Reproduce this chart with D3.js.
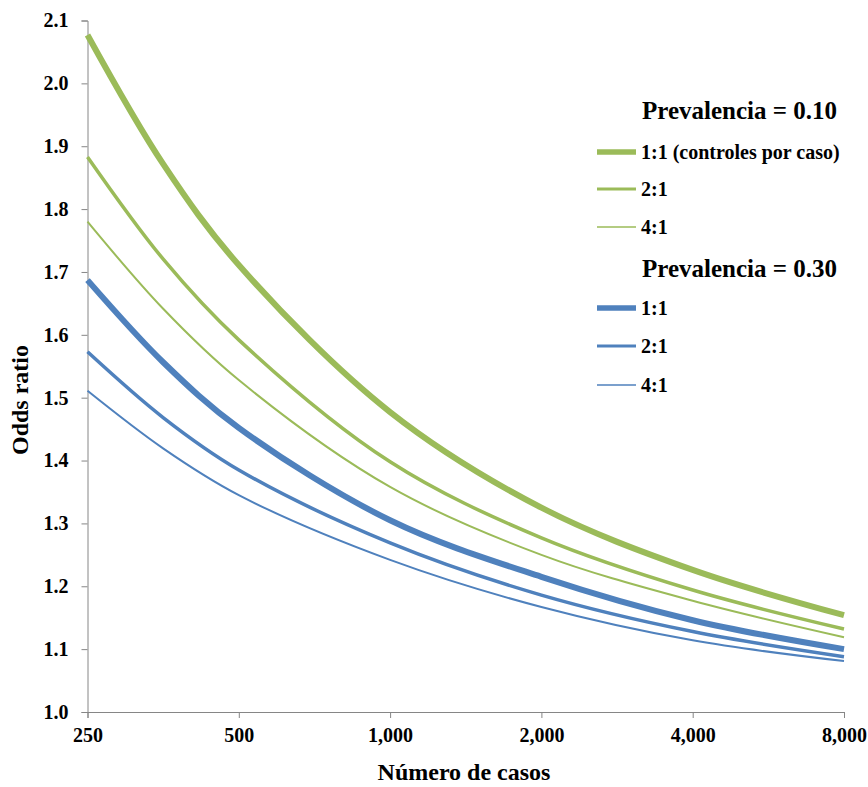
<!DOCTYPE html>
<html lang="es">
<head>
  <meta charset="utf-8">
  <title>Odds ratio detectable según número de casos</title>
  <script src="https://d3js.org/d3.v7.min.js"></script>
  <style>
    body { margin: 0; background: #fff; }
    svg text { font-family: "Times New Roman", "Liberation Serif", Tinos, "DejaVu Serif", serif !important; font-weight: bold; fill: #000; }
  </style>
</head>
<body>
<div id="chart"></div>
<script>
  // Número de casos (eje x, escala logarítmica)
  const casos = [250, 354, 500, 1000, 2000, 4000, 8000];
  const xTicks = [250, 500, 1000, 2000, 4000, 8000];
  const yTicks = [1.0, 1.1, 1.2, 1.3, 1.4, 1.5, 1.6, 1.7, 1.8, 1.9, 2.0, 2.1];

  // odds ratio, prevalencia 0.10
  const prev10_1a1 = [2.077, 1.871, 1.711, 1.477, 1.325, 1.226, 1.154];
  const prev10_2a1 = [1.883, 1.720, 1.592, 1.398, 1.277, 1.194, 1.132];
  const prev10_4a1 = [1.780, 1.641, 1.528, 1.358, 1.250, 1.177, 1.119];
  // prevalencia 0.30
  const prev30_1a1 = [1.687, 1.556, 1.452, 1.305, 1.215, 1.146, 1.100];
  const prev30_2a1 = [1.573, 1.468, 1.385, 1.269, 1.186, 1.128, 1.088];
  const prev30_4a1 = [1.511, 1.419, 1.345, 1.242, 1.167, 1.114, 1.081];

  const legendTitles = ["Prevalencia = 0.10", "Prevalencia = 0.30"];
  const legendLabels = [["1:1 (controles por caso)", "2:1", "4:1"], ["1:1", "2:1", "4:1"]];

  // estilos
  const green = "#9bbb59", blue = "#4f81bd";
  const widths = [6, 3.5, 2];
  const groups = [
    { color: green, series: [prev10_1a1, prev10_2a1, prev10_4a1] },
    { color: blue,  series: [prev30_1a1, prev30_2a1, prev30_4a1] }
  ];

  const width = 868, height = 787;
  const svg = d3.select("#chart").append("svg")
    .attr("width", width)
    .attr("height", height);

  const x = d3.scaleLog().domain([250, 8000]).range([87.5, 844]);
  const y = d3.scaleLinear().domain([1.0, 2.1]).range([712, 20.5]);

  // ejes
  const yAxis = svg.append("g")
    .attr("transform", "translate(87.5,0)")
    .call(d3.axisLeft(y).tickValues(yTicks).tickFormat(d3.format(".1f")).tickSize(6).tickPadding(13));
  const xAxis = svg.append("g")
    .attr("transform", "translate(0,712)")
    .call(d3.axisBottom(x).tickValues(xTicks).tickFormat(d3.format(",")).tickSize(6).tickPadding(10));

  [xAxis, yAxis].forEach(function (g) {
    g.attr("font-family", null).attr("font-size", null);
    g.select(".domain").attr("stroke", "#868686");
    g.selectAll(".tick line").attr("stroke", "#868686");
    g.selectAll(".tick text").style("font-size", "20px");
  });

  // curvas
  const line = d3.line()
    .x(function (d, i) { return x(casos[i]); })
    .y(function (d) { return y(d); })
    .curve(d3.curveCatmullRom.alpha(0.5));

  groups.forEach(function (grp) {
    grp.series.forEach(function (s, j) {
      svg.append("path")
        .datum(s)
        .attr("d", line)
        .attr("fill", "none")
        .attr("stroke", grp.color)
        .attr("stroke-width", widths[j]);
    });
  });

  // títulos de los ejes
  svg.append("text")
    .attr("x", 464).attr("y", 780)
    .attr("text-anchor", "middle")
    .style("font-size", "24px")
    .text("Número de casos");

  svg.append("text")
    .attr("transform", "translate(28,400) rotate(-90)")
    .attr("text-anchor", "middle")
    .style("font-size", "24px")
    .text("Odds ratio");

  // leyenda
  const legY = [[110, 152, 189, 227], [268, 308, 346, 385]];
  groups.forEach(function (grp, gi) {
    svg.append("text")
      .attr("x", 642).attr("y", legY[gi][0])
      .attr("dy", "0.35em")
      .style("font-size", "25px")
      .text(legendTitles[gi]);
    legendLabels[gi].forEach(function (lab, j) {
      const yy = legY[gi][j + 1];
      svg.append("line")
        .attr("x1", 597).attr("x2", 636)
        .attr("y1", yy).attr("y2", yy)
        .attr("stroke", grp.color)
        .attr("stroke-width", widths[j] - 0.5);
      svg.append("text")
        .attr("x", 641).attr("y", yy)
        .attr("dy", "0.35em")
        .style("font-size", "20px")
        .text(lab);
    });
  });
</script>
</body>
</html>
